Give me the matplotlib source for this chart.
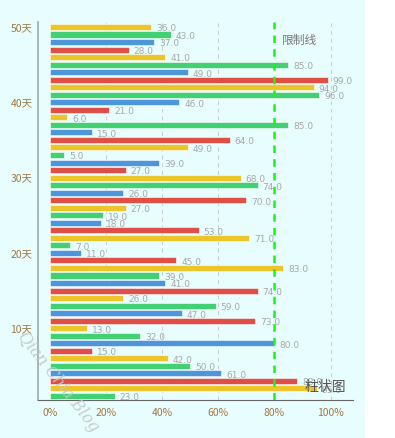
import numpy as np
import matplotlib.pyplot as plt

plt.rcParams['font.family'] = ['Noto Sans CJK SC', 'DejaVu Sans']

# one bar per day, bottom (1天) to top (50天)
days = [f'{i}天' for i in range(1, 51)]
values = [23, 95, 88, 61, 50, 42, 15, 80, 32, 13,
          73, 47, 59, 26, 74, 41, 39, 83, 45, 11,
          7, 71, 53, 18, 19, 27, 70, 26, 74, 68,
          27, 39, 5, 49, 64, 15, 85, 6, 21, 46,
          96, 94, 99, 49, 85, 41, 28, 37, 43, 36]
palette = ['#3fcf70', '#ecc424', '#e04b42', '#4a94dc']
limit = 80
xticks = [0, 20, 40, 60, 80, 100]

fig = plt.figure(figsize=(3.95, 4.38), dpi=100)
fig.patch.set_facecolor('white')
# cyan backdrop that stops short of the right edge
fig.patches.append(plt.Rectangle((0, 0), 365 / 395, 1, transform=fig.transFigure,
                                 facecolor='#e8fdfd', edgecolor='none', zorder=-10))

ax = fig.add_axes([38 / 395, 38 / 438, 315 / 395, 378 / 438])
ax.set_facecolor('none')

pos = np.arange(1, len(values) + 1)
colors = [palette[i % 4] for i in range(len(values))]
ax.barh(pos, values, height=0.8, color=colors, edgecolor='white', linewidth=0.4,
        alpha=0.98, zorder=3)

for p, v in zip(pos, values):
    ax.text(v + 1.8, p - 0.25, f'{v:.1f}', fontsize=6.5, color='#a8a8a8',
            va='center', ha='left', zorder=4, family='DejaVu Sans')

for g in [20, 40, 60, 100]:
    ax.axvline(g, color='#cccccc', linestyle=(0, (4, 4)), linewidth=0.7, zorder=1)
ax.axvline(limit, color='#22ee22', linestyle=(0, (3, 2.5)), linewidth=1.8, zorder=5)
ax.text(limit + 2.5, 48.2, '限制线', fontsize=8.5, color='#777777', ha='left', va='center')

ax.set_xlim(-4.3, 108)
ax.set_ylim(0.47, 50.66)
ax.set_xticks(xticks)
ax.set_xticklabels([f'{t}%' for t in xticks])
ytick_pos = [10, 20, 30, 40, 50]
ax.set_yticks(ytick_pos)
ax.set_yticklabels([days[i - 1] for i in ytick_pos])
ax.tick_params(axis='both', length=0, labelsize=7.5, labelcolor='#a07844')
ax.tick_params(axis='x', pad=6)
ax.tick_params(axis='y', pad=4)

for s in ['top', 'right']:
    ax.spines[s].set_visible(False)
ax.spines['left'].set_color('#9aaaaa')
ax.spines['left'].set_linewidth(1.2)
ax.spines['bottom'].set_color('#666666')
ax.spines['bottom'].set_linewidth(0.8)

fig.text(305 / 395, 1 - 387 / 438, '柱状图', fontsize=10, color='#555555',
         ha='left', va='center', zorder=10)
fig.text(58 / 395, 1 - 382 / 438, 'Qian Chia Blog', fontsize=11.5, color='#c2c8c8',
         rotation=-52, ha='center', va='center', style='italic', alpha=0.9,
         family='DejaVu Serif', zorder=10)

fig.savefig('out.png', dpi=100)
